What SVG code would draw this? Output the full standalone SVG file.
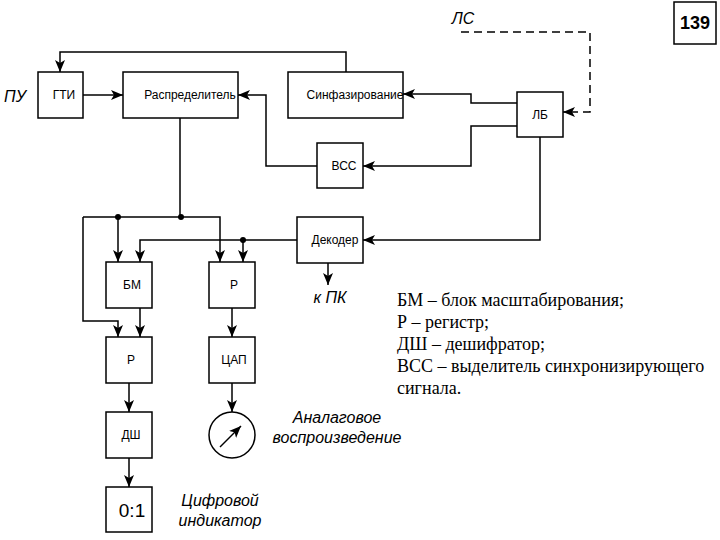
<svg xmlns="http://www.w3.org/2000/svg" width="720" height="540" viewBox="0 0 720 540">
<style>
.box{fill:#fff;stroke:#000;stroke-width:1.5}
.lbl{font-family:"Liberation Sans",Arial,sans-serif;font-size:12px;fill:#000;text-anchor:middle}
.it{font-family:"Liberation Sans",Arial,sans-serif;font-size:16px;font-style:italic;fill:#000;text-anchor:middle}
.leg{font-family:"Liberation Serif","Times New Roman",serif;font-size:18px;fill:#000}
.ln{fill:none;stroke:#000;stroke-width:1.5}
</style>
<defs>
<marker id="ah" viewBox="0 0 12 10" refX="12" refY="5" markerWidth="12" markerHeight="10" markerUnits="userSpaceOnUse" orient="auto">
<path d="M0,0 L12,5 L0,10 L3,5 z" fill="#000"/>
</marker>
</defs>
<rect width="720" height="540" fill="#fff"/>
<g id="connectors">
<path class="ln" d="M346,72 V52 H60 V72" marker-end="url(#ah)"/>
<path class="ln" d="M83,95 H123" marker-end="url(#ah)"/>
<path class="ln" d="M517,103 H471 V94 H403" marker-end="url(#ah)"/>
<path class="ln" d="M517,126 H471 V166 H363" marker-end="url(#ah)"/>
<path class="ln" d="M317,166 H266 V95 H238" marker-end="url(#ah)"/>
<path class="ln" d="M461,32 H590 V112 H563" stroke-dasharray="8,5" marker-end="url(#ah)"/>
<path class="ln" d="M540,137 V240 H363" marker-end="url(#ah)"/>
<path class="ln" d="M180,118 V217"/>
<path class="ln" d="M83,217 H220 V262" marker-end="url(#ah)"/>
<path class="ln" d="M118,217 V262" marker-end="url(#ah)"/>
<path class="ln" d="M83,217 V321 H118 V337" marker-end="url(#ah)"/>
<path class="ln" d="M297,240 H140 V262" marker-end="url(#ah)"/>
<path class="ln" d="M243,240 V262" marker-end="url(#ah)"/>
<path class="ln" d="M328,263 V285" marker-end="url(#ah)"/>
<path class="ln" d="M140,308 V337" marker-end="url(#ah)"/>
<path class="ln" d="M232,308 V337" marker-end="url(#ah)"/>
<path class="ln" d="M129,383 V412" marker-end="url(#ah)"/>
<path class="ln" d="M129,458 V487" marker-end="url(#ah)"/>
<path class="ln" d="M232,383 V412" marker-end="url(#ah)"/>
<circle cx="181" cy="217" r="3" fill="#000"/>
<circle cx="118" cy="217" r="3" fill="#000"/>
<circle cx="243" cy="240" r="3" fill="#000"/>
</g>
<g id="gti"><rect class="box" x="38" y="72" width="45" height="46"/><text class="lbl" x="64" y="99">ГТИ</text></g>
<g id="raspr"><rect class="box" x="123" y="72" width="115" height="46"/><text class="lbl" x="190" y="99">Распределитель</text></g>
<g id="sinf"><rect class="box" x="288" y="72" width="115" height="46"/><text class="lbl" x="355" y="99">Синфазирование</text></g>
<g id="vss"><rect class="box" x="317" y="143" width="46" height="45"/><text class="lbl" x="344" y="170">ВСС</text></g>
<g id="lb"><rect class="box" x="517" y="92" width="46" height="45"/><text class="lbl" x="540" y="119">ЛБ</text></g>
<g id="dekoder"><rect class="box" x="297" y="217" width="66" height="46"/><text class="lbl" x="335" y="244">Декодер</text></g>
<g id="bm"><rect class="box" x="106" y="262" width="46" height="46"/><text class="lbl" x="132" y="289">БМ</text></g>
<g id="r1"><rect class="box" x="209" y="262" width="46" height="46"/><text class="lbl" x="234" y="289">Р</text></g>
<g id="r2"><rect class="box" x="106" y="337" width="46" height="46"/><text class="lbl" x="131" y="364">Р</text></g>
<g id="cap"><rect class="box" x="209" y="337" width="46" height="46"/><text class="lbl" x="234" y="364">ЦАП</text></g>
<g id="dsh"><rect class="box" x="106" y="412" width="46" height="46"/><text class="lbl" x="131" y="439">ДШ</text></g>
<g id="ind"><rect class="box" x="106" y="487" width="46" height="45"/><text class="lbl" x="132" y="517" style="font-size:19px">0:1</text></g>
<g id="meter"><circle cx="232" cy="435" r="23" fill="#fff" stroke="#000" stroke-width="1.5"/><path class="ln" d="M220,447 L241,426" marker-end="url(#ah)"/></g>
<g id="page"><rect x="674" y="2" width="42" height="42" fill="#fff" stroke="#000" stroke-width="1.5"/><text x="695" y="29" style="font-family:'Liberation Sans',Arial,sans-serif;font-size:18px;font-weight:bold" text-anchor="middle">139</text></g>
<g id="labels">
<text class="it" x="15" y="102">ПУ</text>
<text class="it" x="463" y="24">ЛС</text>
<text class="it" x="330" y="303">к ПК</text>
<text class="it" x="337" y="423">Аналаговое</text>
<text class="it" x="337" y="443">воспроизведение</text>
<text class="it" x="220" y="506">Цифровой</text>
<text class="it" x="220" y="526">индикатор</text>
</g>
<g id="legend">
<text class="leg" x="397" y="306">БМ – блок масштабирования;</text>
<text class="leg" x="397" y="328">Р – регистр;</text>
<text class="leg" x="397" y="350">ДШ – дешифратор;</text>
<text class="leg" x="397" y="372">ВСС – выделитель синхронизирующего</text>
<text class="leg" x="397" y="394">сигнала.</text>
</g>
</svg>
